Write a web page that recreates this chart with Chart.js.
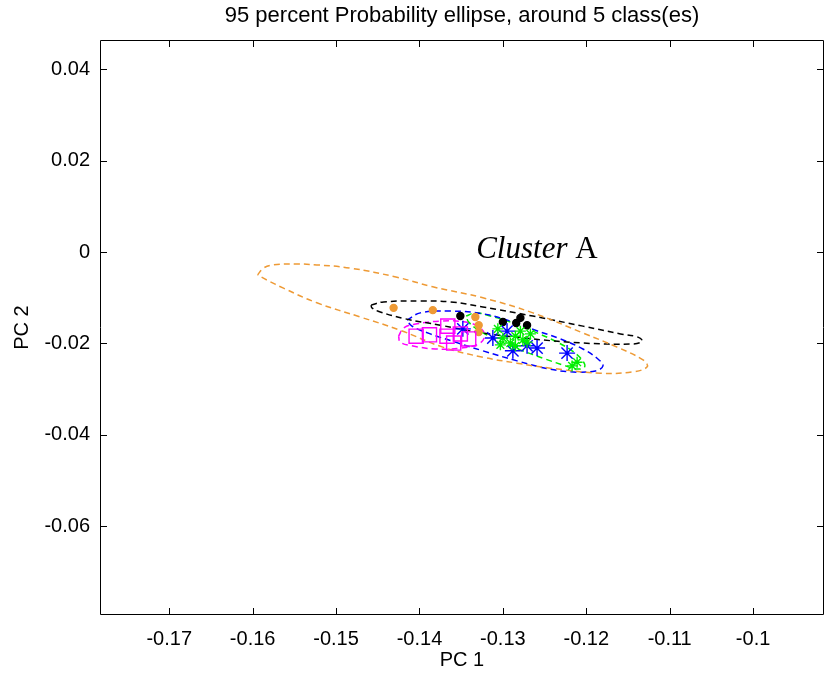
<!DOCTYPE html>
<html><head><meta charset="utf-8">
<script src="https://cdn.jsdelivr.net/npm/chart.js@4.4.1/dist/chart.umd.min.js"></script>
<style>html,body{margin:0;padding:0;background:#fff;overflow:hidden;}#wrap{width:825px;height:677px;}canvas{display:block;}</style>
</head><body><div id="wrap"><canvas id="c" width="825" height="677"></canvas></div>
<script>
const chartTitle = '95 percent Probability ellipse, around 5 class(es)';
const xAxisTitle = 'PC 1';
const yAxisTitle = 'PC 2';
const xTicks = [-0.17, -0.16, -0.15, -0.14, -0.13, -0.12, -0.11, -0.1];
const xTickLabels = ['-0.17', '-0.16', '-0.15', '-0.14', '-0.13', '-0.12', '-0.11', '-0.1'];
const yTicks = [-0.06, -0.04, -0.02, 0, 0.02, 0.04];
const yTickLabels = ['-0.06', '-0.04', '-0.02', '0', '0.02', '0.04'];
const xRange = [-0.1783, -0.0915];
const yRange = [-0.0794, 0.0464];
const clusterLabel = ['Cluster', ' A'];
const clusterLabelPos = [-0.1332, -0.0013];

// 95% ellipse outlines
const ellipseOrange = [[-0.1594,-0.0050],[-0.1587,-0.0035],[-0.1575,-0.0028],[-0.1549,-0.0026],[-0.1523,-0.0028],[-0.1483,-0.0035],[-0.1427,-0.0055],[-0.1384,-0.0076],[-0.1324,-0.0100],[-0.1264,-0.0133],[-0.1204,-0.0177],[-0.1163,-0.0208],[-0.1132,-0.0236],[-0.1127,-0.0251],[-0.1144,-0.0262],[-0.1183,-0.0265],[-0.1243,-0.0254],[-0.1283,-0.0243],[-0.1324,-0.0230],[-0.1372,-0.0208],[-0.1423,-0.0171],[-0.1471,-0.0142],[-0.1523,-0.0111],[-0.1563,-0.0079],[-0.1583,-0.0061],[-0.1594,-0.0050]];
const ellipseBlack = [[-0.1458,-0.0116],[-0.1443,-0.0109],[-0.1399,-0.0107],[-0.1363,-0.0109],[-0.1324,-0.0120],[-0.1264,-0.0140],[-0.1204,-0.0162],[-0.1159,-0.0179],[-0.1138,-0.0186],[-0.1133,-0.0195],[-0.1144,-0.0201],[-0.1204,-0.0199],[-0.1264,-0.0190],[-0.1324,-0.0177],[-0.1375,-0.0160],[-0.1417,-0.0146],[-0.1447,-0.0131],[-0.1457,-0.0122],[-0.1458,-0.0116]];
const ellipseBlue = [[-0.1415,-0.0149],[-0.1399,-0.0133],[-0.1363,-0.0129],[-0.1324,-0.0135],[-0.1291,-0.0151],[-0.1261,-0.0171],[-0.1231,-0.0190],[-0.1204,-0.0212],[-0.1186,-0.0234],[-0.1180,-0.0249],[-0.1189,-0.0260],[-0.1219,-0.0262],[-0.1249,-0.0254],[-0.1283,-0.0238],[-0.1324,-0.0216],[-0.1357,-0.0197],[-0.1387,-0.0179],[-0.1409,-0.0162],[-0.1415,-0.0149]];
const ellipseGreen = [[-0.1344,-0.0140],[-0.1333,-0.0133],[-0.1315,-0.0140],[-0.1291,-0.0153],[-0.1264,-0.0173],[-0.1237,-0.0195],[-0.1217,-0.0216],[-0.1205,-0.0236],[-0.1202,-0.0251],[-0.1211,-0.0256],[-0.1225,-0.0249],[-0.1249,-0.0234],[-0.1279,-0.0214],[-0.1307,-0.0192],[-0.1329,-0.0171],[-0.1341,-0.0153],[-0.1344,-0.0140]];
const ellipseMagenta = [[-0.1425,-0.0184],[-0.1419,-0.0166],[-0.1403,-0.0157],[-0.1375,-0.0151],[-0.1345,-0.0153],[-0.1327,-0.0166],[-0.1322,-0.0184],[-0.1329,-0.0201],[-0.1351,-0.0210],[-0.1381,-0.0212],[-0.1409,-0.0205],[-0.1423,-0.0197],[-0.1425,-0.0184]];

// class members
const pointsOrange = [[-0.1431,-0.0122],[-0.1384,-0.0127],[-0.1333,-0.0142],[-0.1329,-0.0160],[-0.1329,-0.0175]];
const pointsBlack = [[-0.1351,-0.0140],[-0.1300,-0.0153],[-0.1284,-0.0155],[-0.1279,-0.0144],[-0.1271,-0.0160]];
const pointsBlue = [[-0.1348,-0.0168],[-0.1312,-0.0188],[-0.1295,-0.0173],[-0.1288,-0.0216],[-0.1271,-0.0205],[-0.1259,-0.0210],[-0.1223,-0.0221]];
const pointsGreen = [[-0.1306,-0.0168],[-0.1300,-0.0188],[-0.1291,-0.0199],[-0.1285,-0.0184],[-0.1279,-0.0173],[-0.1276,-0.0192],[-0.1267,-0.0179],[-0.1285,-0.0205],[-0.1303,-0.0203],[-0.1271,-0.0197],[-0.1211,-0.0241],[-0.1217,-0.0249]];
const pointsMagenta = [[-0.1404,-0.0184],[-0.1388,-0.0181],[-0.1366,-0.0162],[-0.1367,-0.0184],[-0.1351,-0.0179],[-0.1341,-0.0190],[-0.1359,-0.0199]];

const ORANGE = '#ee9a35', BLACK = '#000000', BLUE = '#0000ff', GREEN = '#00ee00', MAGENTA = '#ff00ff';
const FONT = '"Liberation Sans", Arial, Helvetica, sans-serif';
const toXY = arr => arr.map(p => ({x: p[0], y: p[1]}));

function ellipseDs(arr, color) {
  return {data: toXY(arr), showLine: true, borderColor: color, borderWidth: 1.5, borderDash: [6, 4],
    pointRadius: 0, tension: 0.4, fill: false, order: 2};
}
function pointDs(arr, color, style, r, filled) {
  return {data: toXY(arr), showLine: false, pointStyle: style, pointRadius: r,
    borderColor: color, backgroundColor: filled ? color : 'rgba(0,0,0,0)', pointBorderWidth: 1.4, order: 1};
}

const datasets = [
  ellipseDs(ellipseOrange, ORANGE),
  ellipseDs(ellipseBlack, BLACK),
  ellipseDs(ellipseBlue, BLUE),
  ellipseDs(ellipseGreen, GREEN),
  ellipseDs(ellipseMagenta, MAGENTA),
  pointDs(pointsMagenta, MAGENTA, 'rect', 10, false),
  pointDs(pointsGreen, GREEN, 'star', 5.5, false),
  pointDs(pointsBlue, BLUE, 'star', 8, false),
  pointDs(pointsOrange, ORANGE, 'circle', 3.5, true),
  pointDs(pointsBlack, BLACK, 'circle', 3.5, true)
];

const boxPlugin = {
  id: 'box',
  afterDraw(chart) {
    const {ctx, chartArea: a, scales: {x, y}} = chart;
    ctx.save();
    // title centred over the plot area
    ctx.fillStyle = '#000';
    ctx.font = '22px ' + FONT;
    ctx.textAlign = 'center';
    ctx.textBaseline = 'middle';
    ctx.fillText(chartTitle, (a.left + a.right) / 2, 16);
    ctx.strokeStyle = '#000';
    ctx.lineWidth = 1;
    ctx.beginPath();
    ctx.rect(Math.round(a.left) + 0.5, Math.round(a.top) + 0.5, Math.round(a.right - a.left) - 1, Math.round(a.bottom - a.top) - 1);
    ctx.stroke();
    const TL = 7;
    ctx.beginPath();
    xTicks.forEach(v => {
      const px = Math.round(x.getPixelForValue(v)) + 0.5;
      ctx.moveTo(px, a.bottom); ctx.lineTo(px, a.bottom - TL);
      ctx.moveTo(px, a.top); ctx.lineTo(px, a.top + TL);
    });
    yTicks.forEach(v => {
      const py = Math.round(y.getPixelForValue(v)) + 0.5;
      ctx.moveTo(a.left, py); ctx.lineTo(a.left + TL, py);
      ctx.moveTo(a.right, py); ctx.lineTo(a.right - TL, py);
    });
    ctx.stroke();
    // annotation
    const lx = x.getPixelForValue(clusterLabelPos[0]);
    const ly = y.getPixelForValue(clusterLabelPos[1]);
    ctx.textBaseline = 'alphabetic';
    ctx.textAlign = 'left';
    ctx.font = 'italic 31px "Liberation Serif", "Times New Roman", serif';
    ctx.fillText(clusterLabel[0], lx, ly);
    const w = ctx.measureText(clusterLabel[0]).width;
    ctx.font = '31px "Liberation Serif", "Times New Roman", serif';
    ctx.fillText(clusterLabel[1], lx + w, ly);
    ctx.restore();
  }
};

new Chart(document.getElementById('c'), {
  type: 'scatter',
  data: {datasets},
  options: {
    responsive: false, animation: false, devicePixelRatio: 1,
    layout: {autoPadding: false, padding: {left: 0, right: 1, top: 40, bottom: 0}},
    plugins: {
      legend: {display: false}, tooltip: {enabled: false}, title: {display: false}
    },
    scales: {
      x: {
        type: 'linear', min: xRange[0], max: xRange[1],
        grid: {display: false, drawTicks: false}, border: {display: false},
        afterBuildTicks(s) { s.ticks = xTicks.map(v => ({value: v})); },
        afterFit(s) { s.height = 62; s.paddingLeft = 0; s.paddingRight = 0; },
        ticks: {autoSkip: false, maxRotation: 0, padding: 12, color: '#000', font: {family: FONT, size: 20},
          callback: (v, i) => xTickLabels[i]},
        title: {display: true, text: xAxisTitle, color: '#000', font: {family: FONT, size: 20, lineHeight: 1.2}, padding: {top: 0, bottom: 5}}
      },
      y: {
        type: 'linear', min: yRange[0], max: yRange[1],
        grid: {display: false, drawTicks: false}, border: {display: false},
        afterBuildTicks(s) { s.ticks = yTicks.map(v => ({value: v})); },
        afterFit(s) { s.width = 100; s.paddingTop = 0; s.paddingBottom = 0; },
        ticks: {autoSkip: false, padding: 10, color: '#000', font: {family: FONT, size: 20},
          callback: (v, i) => yTickLabels[i]},
        title: {display: true, text: yAxisTitle, color: '#000', font: {family: FONT, size: 20, lineHeight: 1.2}, padding: {top: 10, bottom: 0}}
      }
    }
  },
  plugins: [boxPlugin]
});
</script>
</body></html>
